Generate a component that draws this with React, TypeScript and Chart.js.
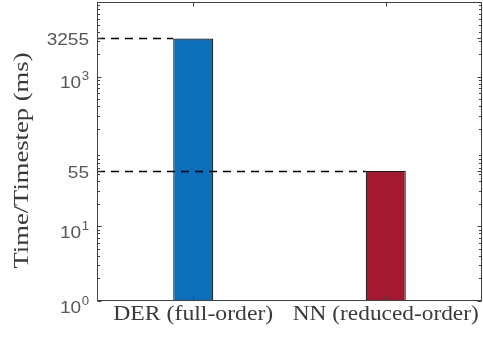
import React, { useEffect, useRef } from "react";
import { Chart, registerables } from "chart.js";

Chart.register(...registerables);

const categories = ["DER (full-order)", "NN (reduced-order)"];
const timePerStep = [3255, 55];
const barColors = ["#0B6FBA", "#A31A30"];
const yTickValues = [1, 10, 55, 1000, 3255];
const yTickBase = ["10", "10", "55", "10", "3255"];
const yTickExp = ["0", "1", "", "3", ""];
const yTitle = "Time/Timestep (ms)";
const yMin = 1;
const yMax = 10000;

const TICK_TEXT = "#575757";
const SERIF_TEXT = "#3a3a3a";
const AXIS = "#404040";

function drawStretched(
  ctx: CanvasRenderingContext2D,
  text: string,
  x: number,
  y: number,
  font: string,
  align: "left" | "right" | "center",
  targetWidth?: number,
  sx: number = 1
) {
  ctx.save();
  ctx.font = font;
  const w = ctx.measureText(text).width;
  let s = sx;
  if (targetWidth) s = targetWidth / w;
  const W = w * s;
  let left = x;
  if (align === "right") left = x - W;
  else if (align === "center") left = x - W / 2;
  ctx.translate(left, y);
  ctx.scale(s, 1);
  ctx.textAlign = "left";
  ctx.textBaseline = "alphabetic";
  ctx.fillText(text, 0, 0);
  ctx.restore();
  return W;
}

const decorPlugin = {
  id: "matlabDecor",
  afterDatasetsDraw(chart: any) {
    const { ctx, chartArea } = chart;
    const yScale = chart.scales.y;
    const meta = chart.getDatasetMeta(0);
    ctx.save();
    ctx.strokeStyle = "#000";
    ctx.lineWidth = 1.5;
    ctx.setLineDash([8, 6]);
    meta.data.forEach((bar: any, i: number) => {
      const y = Math.round(yScale.getPixelForValue(timePerStep[i])) + 0.5;
      const xEnd = bar.x - bar.width / 2;
      ctx.beginPath();
      ctx.moveTo(chartArea.left, y);
      ctx.lineTo(xEnd, y);
      ctx.stroke();
    });
    ctx.restore();
  },
  afterDraw(chart: any) {
    const { ctx, chartArea } = chart;
    const { left, right, top, bottom } = chartArea;
    const yScale = chart.scales.y;
    const xScale = chart.scales.x;
    const L = Math.round(left) + 0.5;
    const R = Math.round(right) - 0.5;
    const T = Math.round(top) + 0.5;
    const B = Math.round(bottom) - 0.5;
    ctx.save();
    ctx.strokeStyle = AXIS;
    ctx.lineWidth = 1;
    ctx.setLineDash([]);
    ctx.strokeRect(L, T, R - L, B - T);

    ctx.beginPath();
    for (let k = 0; k < 4; k++) {
      for (let m = 2; m <= 9; m++) {
        const v = m * Math.pow(10, k);
        const y = Math.round(yScale.getPixelForValue(v)) + 0.5;
        ctx.moveTo(L, y);
        ctx.lineTo(L + 2.5, y);
        ctx.moveTo(R, y);
        ctx.lineTo(R - 2.5, y);
      }
    }
    yTickValues.forEach((v) => {
      const y = Math.round(yScale.getPixelForValue(v)) + 0.5;
      ctx.moveTo(L, y);
      ctx.lineTo(L + 4, y);
      ctx.moveTo(R, y);
      ctx.lineTo(R - 4, y);
    });
    categories.forEach((_, i) => {
      const x = Math.round(xScale.getPixelForValue(i)) + 0.5;
      ctx.moveTo(x, B);
      ctx.lineTo(x, B - 4);
      ctx.moveTo(x, T);
      ctx.lineTo(x, T + 4);
    });
    ctx.stroke();

    ctx.fillStyle = TICK_TEXT;
    const labelRight = left - 8;
    yTickValues.forEach((v, i) => {
      const y = yScale.getPixelForValue(v);
      const exp = yTickExp[i];
      if (exp) {
        const ew = drawStretched(ctx, exp, labelRight, y + 3.5, "12px 'Liberation Sans', Arial, sans-serif", "right", undefined, 1.1);
        drawStretched(ctx, yTickBase[i], labelRight - ew - 0.5, y + 11.5, "17px 'Liberation Sans', Arial, sans-serif", "right", undefined, 1.12);
      } else {
        drawStretched(ctx, yTickBase[i], labelRight, y + 7, "17px 'Liberation Sans', Arial, sans-serif", "right", undefined, 1.12);
      }
    });

    ctx.fillStyle = SERIF_TEXT;
    const xTargets = [160, 186];
    categories.forEach((c, i) => {
      const x = xScale.getPixelForValue(i);
      drawStretched(ctx, c, x, 319.5, "20px 'Liberation Serif', 'Times New Roman', serif", "center", xTargets[i]);
    });

    ctx.save();
    ctx.translate(28, (top + bottom) / 2 + 9);
    ctx.rotate(-Math.PI / 2);
    drawStretched(ctx, yTitle, 0, 0, "20px 'Liberation Serif', 'Times New Roman', serif", "center", 216);
    ctx.restore();

    ctx.restore();
  },
};

export default function App() {
  const canvasRef = useRef<HTMLCanvasElement | null>(null);

  useEffect(() => {
    const canvas = canvasRef.current;
    if (!canvas) return;
    const chart = new Chart(canvas, {
      type: "bar",
      data: {
        labels: categories,
        datasets: [
          {
            data: timePerStep,
            backgroundColor: barColors,
            borderColor: "#1a1a1a",
            borderWidth: 1.2,
            barPercentage: 0.208,
            categoryPercentage: 1,
          },
        ],
      },
      options: {
        responsive: false,
        animation: false,
        devicePixelRatio: 1,
        layout: { padding: { left: 97, right: 1, top: 2, bottom: 37 } },
        plugins: { legend: { display: false }, tooltip: { enabled: false } },
        scales: {
          x: { type: "category", display: false, offset: true },
          y: { type: "logarithmic", display: false, min: yMin, max: yMax },
        },
      },
      plugins: [decorPlugin],
    });
    return () => chart.destroy();
  }, []);

  return (
    <div style={{ position: "fixed", left: 0, top: 0, width: 483, height: 338, background: "#fff" }}>
      <canvas ref={canvasRef} width={483} height={338} style={{ width: 483, height: 338, display: "block" }} />
    </div>
  );
}
